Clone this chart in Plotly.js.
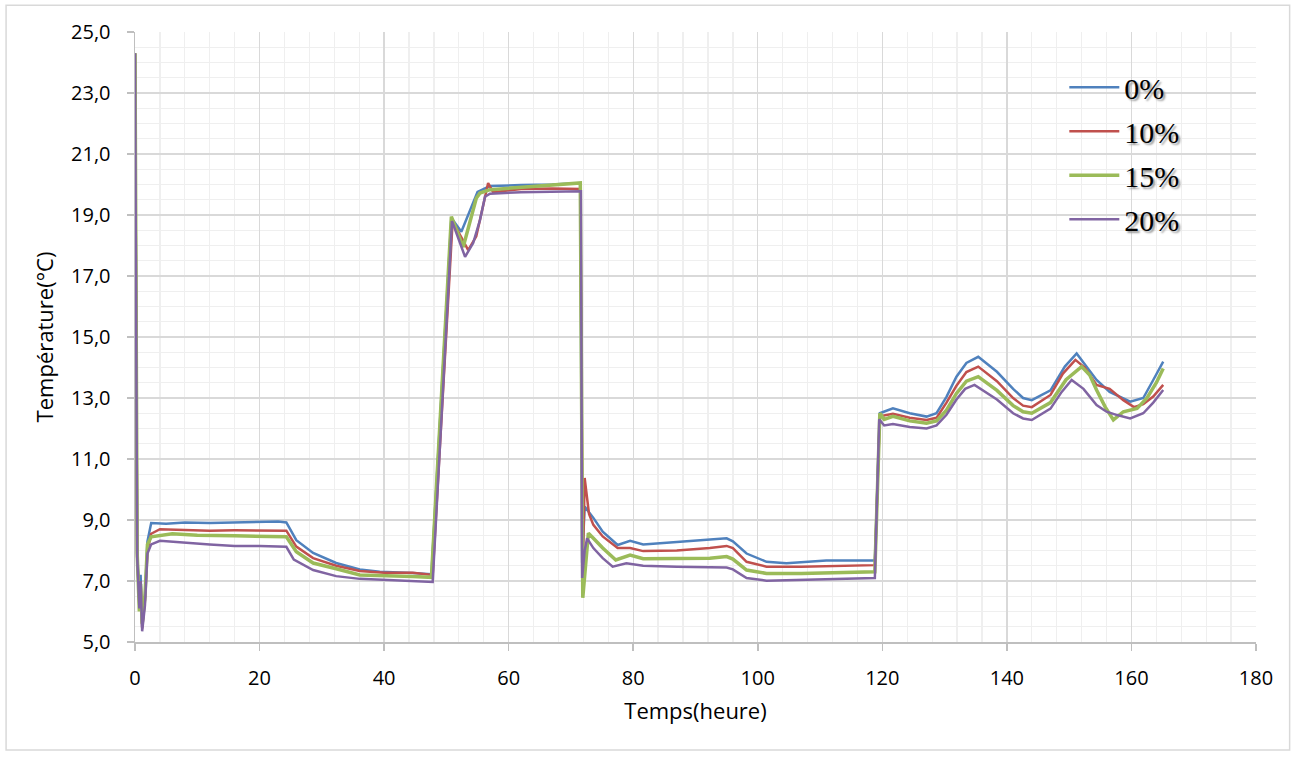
<!DOCTYPE html>
<html>
<head>
<meta charset="utf-8">
<script src="https://cdn.plot.ly/plotly-3.0.1.min.js"></script>
<style>
html,body{margin:0;padding:0;background:#fff;}
#chart{width:1298px;height:757px;}
</style>
</head>
<body>
<div id="chart"></div>
<script>
const seriesNames = ["0%", "10%", "15%", "20%"];
const seriesColors = ["#4F81BD", "#C0504D", "#9BBB59", "#8064A2"];

const t0 = [0,0.35,0.7,0.9,1.15,1.6,2.0,2.6,5,8,12,16,20,23,24.3,25.9,28.6,32.3,36.1,39.3,44.6,47.6,50.8,52.4,55.0,57.0,62,67,71.5,71.8,72.2,73.6,75.1,77.5,79.5,81.6,87,92.3,95,96,98.2,101.4,104.6,111,118.8,119.6,121.7,124.4,127.1,128.7,130.3,131.9,133.5,135.4,138.4,141,142.6,144,147,149.3,151.2,154.4,156.5,159.8,161.9,163.5,165.1];
const v0 = [24.3,7.9,6.6,7.2,5.5,6.5,8.3,8.9,8.88,8.92,8.9,8.92,8.93,8.95,8.92,8.34,7.92,7.59,7.38,7.3,7.26,7.22,18.9,18.45,19.76,19.95,19.98,20.0,20.05,7.6,9.44,9.07,8.62,8.18,8.32,8.2,8.28,8.35,8.4,8.3,7.9,7.63,7.58,7.67,7.67,12.5,12.66,12.5,12.39,12.5,13.04,13.7,14.15,14.35,13.86,13.3,13.0,12.93,13.25,14.03,14.46,13.59,13.2,12.88,13.0,13.59,14.19];

const t10 = [0,0.35,0.7,0.9,1.15,1.6,2.0,2.6,4,8,12,16,20,24.3,25.9,28.6,32.3,36.1,40,44.6,47.8,51.0,53.5,54.8,55.9,56.7,57.5,62,67,71.5,71.9,72.2,72.9,73.6,75.1,77.5,79.5,81.6,87,92.3,95,96,98.2,101.4,107,118.8,119.6,121.7,124.4,127.1,128.7,130.3,131.9,133.5,135.4,138.4,141,142.6,144,147,149,151,152.5,154.4,156.5,158.7,160.4,161.9,163.5,165.1];
const v10 = [24.3,7.8,6.3,7.0,5.45,6.4,8.0,8.55,8.7,8.68,8.65,8.66,8.65,8.65,8.13,7.75,7.5,7.33,7.27,7.27,7.2,18.8,17.85,18.3,19.3,20.05,19.75,19.85,19.87,19.85,7.3,10.38,9.2,8.84,8.46,8.08,8.08,7.98,8.0,8.08,8.15,8.08,7.63,7.47,7.47,7.52,12.4,12.48,12.35,12.28,12.35,12.85,13.4,13.85,14.03,13.55,13.0,12.75,12.7,13.1,13.8,14.25,14.0,13.43,13.3,12.93,12.7,12.8,13.05,13.43];

const t15 = [0,0.35,0.7,0.9,1.15,1.6,2.0,2.6,6,10,16,20,24.3,25.9,28.6,32.3,36.1,44.6,47.6,50.8,52.7,54.8,55.4,57,62,67,71.5,71.9,72.8,73.6,75.1,77.2,79.5,81.6,87,92.3,95,96,98.2,101.4,107,118.8,119.6,120.3,121.7,124.4,127.1,128.7,130.3,131.9,133.5,135.4,138.4,141,142.6,144,147,149.5,152,153.3,154.4,155.8,157.1,158.7,160.9,162.5,164,165.1];
const v15 = [24.3,7.9,6.0,6.9,5.6,6.5,8.2,8.45,8.55,8.5,8.48,8.47,8.45,7.96,7.59,7.4,7.2,7.15,7.12,18.95,17.95,19.55,19.72,19.83,19.9,19.98,20.05,6.45,8.57,8.4,8.08,7.69,7.85,7.73,7.73,7.75,7.8,7.72,7.36,7.25,7.25,7.3,12.5,12.3,12.4,12.25,12.17,12.25,12.6,13.15,13.55,13.7,13.25,12.75,12.55,12.5,12.85,13.6,14.03,13.75,13.26,12.7,12.28,12.55,12.66,13.0,13.5,13.97];

const t20 = [0,0.35,0.7,0.9,1.15,1.6,2.0,2.6,4,8,12,16,20,24.3,25.5,28.6,32.3,36.1,44.6,47.8,50.9,53,54.3,55.4,56.2,57,62,67,71.6,71.8,72.2,72.6,73.6,75.1,76.7,78.9,81.6,87,92.3,95,96,98.2,101.4,107,118.8,119.5,120.3,121.7,124.4,127.1,128.7,130.3,131.9,133.3,134.8,138.4,141,142.6,144,147,148.8,150.4,152.3,154.4,156,157.7,159.8,161.9,163.5,165.1];
const v20 = [24.3,7.8,6.1,7.0,5.35,6.2,7.9,8.2,8.32,8.25,8.2,8.15,8.15,8.12,7.7,7.36,7.16,7.07,6.98,6.97,18.8,17.63,18.08,18.84,19.6,19.7,19.75,19.77,19.78,7.1,8.0,8.4,8.08,7.75,7.47,7.58,7.5,7.47,7.44,7.44,7.38,7.1,7.01,7.04,7.1,12.3,12.1,12.15,12.05,12.0,12.1,12.45,12.95,13.3,13.43,12.95,12.5,12.33,12.28,12.65,13.2,13.59,13.3,12.77,12.55,12.44,12.33,12.5,12.85,13.26];

const xs = [t0, t10, t15, t20];
const ys = [v0, v10, v15, v20];
const widths = [2.5, 2.5, 3.5, 2.5];

const traces = seriesNames.map((n, i) => ({
  x: xs[i], y: ys[i], name: n, type: 'scatter', mode: 'lines',
  line: {color: seriesColors[i], width: widths[i]},
  legendgroup: 'g' + i
}));

const sansFam = 'Open Sans, Liberation Sans, sans-serif';
const tickFont = {family: sansFam, size: 20, color: '#000'};

const layout = {
  width: 1298, height: 757,
  margin: {l: 135, r: 42, t: 32, b: 115},
  paper_bgcolor: '#fff', plot_bgcolor: '#fff',
  separators: ', ',
  showlegend: true,
  legend: {
    x: 0.829, y: 0.952, xanchor: 'left', yanchor: 'top',
    bgcolor: 'rgba(0,0,0,0)', tracegroupgap: 2, itemwidth: 50,
    font: {family: 'Liberation Serif, Times New Roman, serif', size: 30, color: '#000', shadow: '2px 2px 2px #999'}
  },
  xaxis: {
    range: [0, 180], dtick: 20, tick0: 0,
    showgrid: true, gridcolor: '#d9d9d9', gridwidth: 1.3,
    minor: {dtick: 4, showgrid: true, gridcolor: '#efefef', gridwidth: 1.3},
    showline: true, linecolor: '#bfbfbf', linewidth: 1.5,
    ticks: 'outside', ticklen: 7, tickcolor: '#bfbfbf', tickwidth: 1.5,
    tickfont: tickFont, zeroline: false, ticklabelstandoff: 10,
    title: {text: 'Temps(heure)', font: {family: sansFam, size: 22, color: '#000'}, standoff: 14}
  },
  yaxis: {
    range: [5, 25], dtick: 2, tick0: 5, tickformat: '.1f',
    showgrid: true, gridcolor: '#d9d9d9', gridwidth: 1.3,
    minor: {dtick: 0.5, showgrid: true, gridcolor: '#efefef', gridwidth: 1.3},
    showline: true, linecolor: '#bfbfbf', linewidth: 1.5,
    ticks: 'outside', ticklen: 7, tickcolor: '#bfbfbf', tickwidth: 1.5,
    tickfont: tickFont, zeroline: false, ticklabelstandoff: 12,
    title: {text: 'Température(°C)', font: {family: sansFam, size: 22, color: '#000'}, standoff: 11}
  },
  shapes: [{
    type: 'rect', xref: 'paper', yref: 'paper',
    x0: -0.115, x1: 1.030, y0: -0.177, y1: 1.044,
    line: {color: '#d9d9d9', width: 1.5}, fillcolor: 'rgba(0,0,0,0)', layer: 'below'
  }]
};

Plotly.newPlot('chart', traces, layout, {displayModeBar: false, staticPlot: true});
</script>
</body>
</html>
